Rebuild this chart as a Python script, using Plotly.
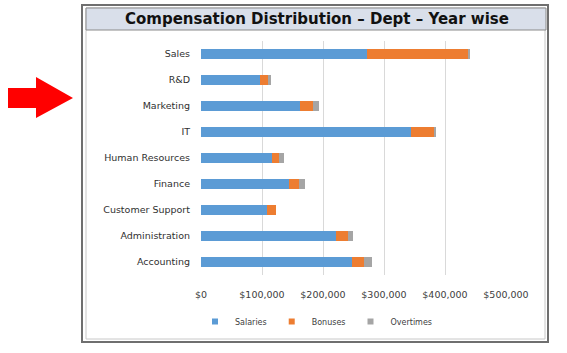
import plotly.graph_objects as go

W, H = 567, 353

departments = ["Accounting", "Administration", "Customer Support", "Finance",
               "Human Resources", "IT", "Marketing", "R&D", "Sales"]
salaries = [247000, 221000, 108000, 144000, 116000, 344000, 162000, 97000, 272000]
bonuses = [20000, 20000, 15000, 17000, 12000, 38000, 22000, 13000, 167000]
overtimes = [13000, 8000, 0, 9000, 8000, 3000, 9000, 5000, 1000]
x_ticks = [0, 100000, 200000, 300000, 400000, 500000]
x_tick_labels = ["$0", "$100,000", "$200,000", "$300,000", "$400,000", "$500,000"]

colors = {"Salaries": "#5b9bd5", "Bonuses": "#ed7d31", "Overtimes": "#a5a5a5"}


def px(x):
    return x / W


def py(y):
    return 1 - y / H


fig = go.Figure()
for name, vals in [("Salaries", salaries), ("Bonuses", bonuses), ("Overtimes", overtimes)]:
    fig.add_trace(go.Bar(y=departments, x=vals, name=name, orientation="h",
                         marker=dict(color=colors[name], line=dict(width=0)),
                         showlegend=False))
# legend entries with small square symbols
for name in ["Salaries", "Bonuses", "Overtimes"]:
    fig.add_trace(go.Scatter(x=[None], y=[None], mode="markers", name=name,
                             marker=dict(symbol="square", size=6, color=colors[name])))

font_main = "DejaVu Sans"

shapes = []
# outer frame
shapes.append(dict(type="rect", xref="paper", yref="paper",
                   x0=px(82), x1=px(548), y0=py(342), y1=py(5),
                   line=dict(color="#6f6f6f", width=2), fillcolor="rgba(0,0,0,0)", layer="below"))
shapes.append(dict(type="rect", xref="paper", yref="paper",
                   x0=px(86), x1=px(545), y0=py(339), y1=py(8),
                   line=dict(color="#c8c8c8", width=1), fillcolor="rgba(0,0,0,0)", layer="below"))
# title bar
shapes.append(dict(type="rect", xref="paper", yref="paper",
                   x0=px(86), x1=px(546), y0=py(30), y1=py(8),
                   line=dict(color="#8a8a8a", width=1), fillcolor="#d9dfea", layer="below"))
# red arrow
pts = [(8, 88), (36, 88), (36, 77), (73, 98), (36, 118), (36, 108), (8, 108)]
path = "M " + " L ".join(f"{px(x)},{py(y)}" for x, y in pts) + " Z"
shapes.append(dict(type="path", xref="paper", yref="paper", path=path,
                   fillcolor="#ff0000", line=dict(color="#ff0000", width=0)))

fig.update_layout(
    width=W, height=H,
    margin=dict(l=0, r=0, t=0, b=0),
    paper_bgcolor="white", plot_bgcolor="white",
    barmode="stack", bargap=0.58,
    shapes=shapes,
    font=dict(family=font_main, size=9, color="#404040"),
    annotations=[dict(text="<b>Compensation Distribution – Dept – Year wise</b>",
                      xref="paper", yref="paper", x=px(317), y=py(19),
                      xanchor="center", yanchor="middle", showarrow=False,
                      font=dict(family="DejaVu Sans", size=15, color="#111111"))],
    xaxis=dict(domain=[px(201), px(506)], range=[0, 500000],
               tickvals=x_ticks, ticktext=x_tick_labels,
               showgrid=True, gridcolor="#d9d9d9", gridwidth=1,
               zeroline=False, showline=False, ticks="", automargin=False,
               tickfont=dict(size=9.5, color="#404040"), ticklabelstandoff=12),
    yaxis=dict(domain=[py(275), py(41)], showgrid=False, zeroline=False,
               showline=False, ticks="", automargin=False,
               tickfont=dict(size=9.5, color="#303030"), ticklabelstandoff=10),
    legend=dict(orientation="h", x=px(316), y=py(307), xanchor="center", yanchor="top",
                font=dict(size=8, color="#404040"), traceorder="normal",
                itemwidth=30, bgcolor="rgba(0,0,0,0)", tracegroupgap=0),
)

fig.write_html("out.html")
